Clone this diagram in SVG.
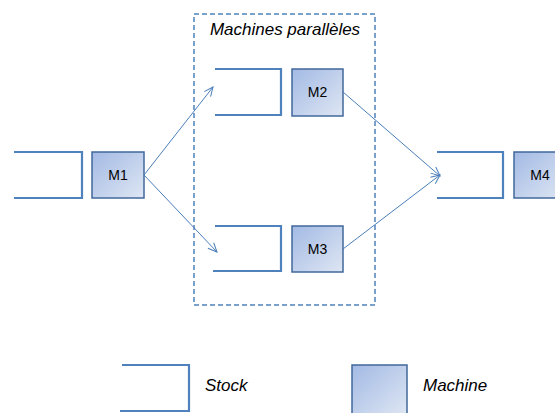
<svg xmlns="http://www.w3.org/2000/svg" width="555" height="413" viewBox="0 0 555 413">
<defs>
<linearGradient id="mg" x1="0" y1="0" x2="1" y2="1">
<stop offset="0" stop-color="#A3BAE4"/>
<stop offset="1" stop-color="#DEE6F3"/>
</linearGradient>
<marker id="ah" markerWidth="12" markerHeight="12" refX="10" refY="5" orient="auto" markerUnits="userSpaceOnUse">
<polyline points="1,1 10,5 1,9" fill="none" stroke="#4A7EBB" stroke-width="1"/>
</marker>
<style>
.stock{fill:none;stroke:#4F81BD;stroke-width:2.2}
.mach{fill:url(#mg);stroke:#41689A;stroke-width:1.5}
.ml{font-family:"Liberation Sans",Arial,sans-serif;font-size:14px;fill:#000;text-anchor:middle}
.it{font-family:"Liberation Sans",Arial,sans-serif;font-size:17px;font-style:italic;fill:#000}
.con{fill:none;stroke:#4A7EBB;stroke-width:1;marker-end:url(#ah)}
</style>
</defs>
<rect width="555" height="413" fill="#fff"/>
<g id="parallel-group">
<rect x="194" y="14" width="181" height="291" fill="none" stroke="#4F81BD" stroke-width="1.5" stroke-dasharray="5,3"/>
<text class="it" x="285" y="35" text-anchor="middle">Machines parallèles</text>
</g>
<g id="stock1"><polyline class="stock" points="14,152 82,152 82,198 14,198"/></g>
<g id="m1"><rect class="mach" x="92" y="152" width="52" height="46"/><text class="ml" x="118" y="180">M1</text></g>
<g id="stock2"><polyline class="stock" points="215,69 281,69 281,115 215,115"/></g>
<g id="m2"><rect class="mach" x="292" y="69" width="51" height="47"/><text class="ml" x="317.5" y="97">M2</text></g>
<g id="stock3"><polyline class="stock" points="215,226 281,226 281,271 213,271"/></g>
<g id="m3"><rect class="mach" x="292" y="226" width="51" height="46"/><text class="ml" x="317.5" y="254">M3</text></g>
<g id="stock4"><polyline class="stock" points="437,152 503,152 503,198 437,198"/></g>
<g id="m4"><rect class="mach" x="514" y="152" width="52" height="46"/><text class="ml" x="540" y="180">M4</text></g>
<g id="connectors">
<line class="con" x1="144" y1="175" x2="213" y2="87"/>
<line class="con" x1="144" y1="175" x2="217" y2="252"/>
<line class="con" x1="343" y1="92" x2="440" y2="176"/>
<line class="con" x1="343" y1="249" x2="440" y2="175"/>
</g>
<g id="legend-stock"><polyline class="stock" points="122,365 189,365 189,411 120,411"/><text class="it" x="205" y="391">Stock</text></g>
<g id="legend-machine"><rect class="mach" x="352" y="365" width="55" height="50"/><text class="it" x="423" y="391">Machine</text></g>
</svg>
